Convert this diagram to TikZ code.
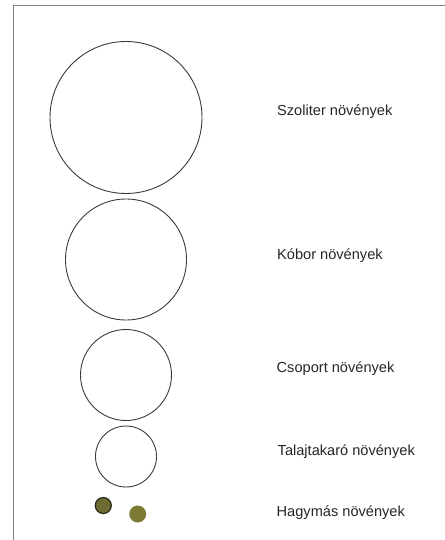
\documentclass[tikz,border=0pt]{standalone}
\usepackage{fontspec}
\setmainfont{Liberation Sans}
\definecolor{framegray}{HTML}{808080}
\definecolor{ringgray}{HTML}{3A3A3A}
\definecolor{olivedark}{HTML}{6D6B30}
\definecolor{olivelight}{HTML}{7B7934}
\definecolor{olivering}{HTML}{2A2A1C}
\begin{document}
\begin{tikzpicture}[x=1bp,y=-1bp,
  ring/.style={circle,draw=ringgray,line width=0.9bp,inner sep=0pt},
  lbl/.style={anchor=base west,inner sep=0pt,font=\fontsize{14.6bp}{16bp}\selectfont,text=black!85}]
\useasboundingbox (0,0) rectangle (445,540);
\draw[framegray,line width=1.5bp] (445,5.5) -- (13.5,5.5) -- (13.5,540);
\node[ring,minimum size=152bp] (c1) at (126,117.5) {};
\node[ring,minimum size=121bp] (c2) at (126,259.5) {};
\node[ring,minimum size=91bp] (c3) at (126,375) {};
\node[ring,minimum size=61bp] (c4) at (126,456.5) {};
\node[circle,inner sep=0pt,minimum size=16bp,fill=olivedark,draw=olivering,line width=1.2bp] (b1) at (103.3,505.5) {};
\node[circle,inner sep=0pt,minimum size=17bp,fill=olivelight] (b2) at (137.7,514) {};
\node[lbl] (t1) at (277,115.5) {Szoliter növények};
\node[lbl] (t2) at (277,259) {Kóbor növények};
\node[lbl] (t3) at (276.5,372.5) {Csoport növények};
\node[lbl] (t4) at (277.5,455) {Talajtakaró növények};
\node[lbl] (t5) at (276.5,516) {Hagymás növények};
\end{tikzpicture}
\end{document}
